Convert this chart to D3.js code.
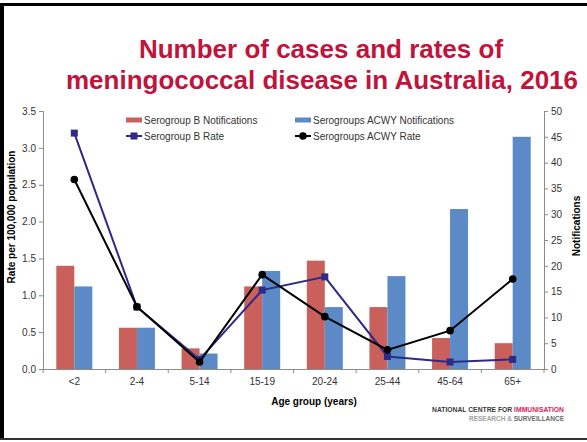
<!DOCTYPE html>
<html><head><meta charset="utf-8">
<script src="https://cdn.jsdelivr.net/npm/d3@7/dist/d3.min.js"></script>
<style>body{margin:0;background:#fff}svg{display:block;font-family:"Liberation Sans",Arial,sans-serif}</style>
</head><body><svg id="c" width="587" height="442"></svg>
<script>
const categories = ["<2","2-4","5-14","15-19","20-24","25-44","45-64","65+"];
const bNotifications = [20,8,4,16,21,12,6,5];
const acwyNotifications = [16,8,3,19,12,18,31,45];
const bRate = [3.2,0.84,0.13,1.07,1.25,0.17,0.095,0.13];
const acwyRate = [2.57,0.845,0.095,1.28,0.71,0.26,0.52,1.22];
const rateTicks = [0,0.5,1,1.5,2,2.5,3,3.5];
const notifTicks = [0,5,10,15,20,25,30,35,40,45,50];

const svg = d3.select("#c");
const L = 43, R = 544, T = 111, B = 369;
const red = "#C9605B", blue = "#5B8AC6", navy = "#2E2A87", axisCol = "#8c8c8c", txt = "#333";

// frame
svg.append("rect").attr("x",0).attr("y",3).attr("width",587).attr("height",3).attr("fill","#000");
svg.append("rect").attr("x",0).attr("y",3).attr("width",4).attr("height",437).attr("fill","#000");
svg.append("rect").attr("x",0).attr("y",438).attr("width",587).attr("height",2).attr("fill","#333");

// title
const title = svg.append("text").attr("text-anchor","middle").attr("fill","#C0143C")
  .attr("font-weight","bold").attr("font-size",26);
title.append("tspan").attr("x",321).attr("y",58).text("Number of cases and rates of");
title.append("tspan").attr("x",322).attr("y",89).text("meningococcal disease in Australia, 2016");

const x = d3.scaleBand().domain(categories).range([L,R]).paddingInner(0).paddingOuter(0);
const x1 = d3.scaleBand().domain(["b","acwy"]).range([0,x.bandwidth()]).paddingInner(0).paddingOuter(0.74);
const yL = d3.scaleLinear().domain([0,3.5]).range([B,T]);
const yR = d3.scaleLinear().domain([0,50]).range([B,T]);

// bars
const g = svg.append("g");
g.selectAll(".rb").data(categories).enter().append("rect")
  .attr("x",(d)=>x(d)+x1("b")).attr("width",x1.bandwidth())
  .attr("y",(d,i)=>yR(bNotifications[i])).attr("height",(d,i)=>B-yR(bNotifications[i]))
  .attr("fill",red);
g.selectAll(".ab").data(categories).enter().append("rect")
  .attr("x",(d)=>x(d)+x1("acwy")).attr("width",x1.bandwidth())
  .attr("y",(d,i)=>yR(acwyNotifications[i])).attr("height",(d,i)=>B-yR(acwyNotifications[i]))
  .attr("fill",blue);

// axes
const axL = svg.append("g").attr("transform",`translate(${L},0)`)
  .call(d3.axisLeft(yL).tickValues(rateTicks).tickFormat(d3.format(".1f")).tickSize(4).tickPadding(3));
const axR = svg.append("g").attr("transform",`translate(${R},0)`)
  .call(d3.axisRight(yR).tickValues(notifTicks).tickSize(4).tickPadding(3));
const axB = svg.append("g").attr("transform",`translate(0,${B})`)
  .call(d3.axisBottom(x).tickSize(0).tickPadding(9));
// x tick marks at band boundaries
const bounds = categories.map(c=>x(c)).concat([R]);
svg.append("g").selectAll("line").data(bounds).enter().append("line")
  .attr("x1",d=>d).attr("x2",d=>d).attr("y1",B).attr("y2",B+4).attr("stroke",axisCol);
[axL,axR,axB].forEach(a=>{
  a.selectAll("path").attr("stroke",axisCol).attr("stroke-width",1);
  a.selectAll("line").attr("stroke",axisCol);
  a.selectAll("text").attr("fill",txt).attr("font-size",10).attr("font-family","Liberation Sans, Arial, sans-serif");
});
axB.select("path").attr("d",`M${L},0.5H${R}`);

// lines
const lineB = d3.line().x((d,i)=>x(categories[i])+x.bandwidth()/2).y(d=>yL(d));
svg.append("path").datum(bRate).attr("d",lineB).attr("fill","none").attr("stroke",navy).attr("stroke-width",2);
svg.append("g").selectAll("rect").data(bRate).enter().append("rect")
  .attr("x",(d,i)=>x(categories[i])+x.bandwidth()/2-3.5).attr("y",d=>yL(d)-3.5)
  .attr("width",7).attr("height",7).attr("fill",navy);
svg.append("path").datum(acwyRate).attr("d",lineB).attr("fill","none").attr("stroke","#000").attr("stroke-width",2);
svg.append("g").selectAll("circle").data(acwyRate).enter().append("circle")
  .attr("cx",(d,i)=>x(categories[i])+x.bandwidth()/2).attr("cy",d=>yL(d)).attr("r",3.8).attr("fill","#000");

// axis titles
svg.append("text").attr("transform","translate(15,217) rotate(-90)").attr("text-anchor","middle")
  .attr("font-weight","bold").attr("font-size",10).attr("fill","#000").text("Rate per 100,000 population");
svg.append("text").attr("transform","translate(580,226) rotate(-90)").attr("text-anchor","middle")
  .attr("font-weight","bold").attr("font-size",10).attr("fill","#000").text("Notifications");
svg.append("text").attr("x",314).attr("y",405).attr("text-anchor","middle")
  .attr("font-weight","bold").attr("font-size",10).attr("fill","#000").text("Age group (years)");

// legend
const leg = svg.append("g").attr("font-size",10).attr("fill",txt);
const items = [
  {t:"Serogroup B Notifications",x:126,y:120,type:"bar",c:red},
  {t:"Serogroups ACWY Notifications",x:295,y:120,type:"bar",c:blue},
  {t:"Serogroup B Rate",x:126,y:136,type:"sq",c:navy},
  {t:"Serogroups ACWY Rate",x:295,y:136,type:"ci",c:"#000"}
];
items.forEach(it=>{
  if(it.type==="bar"){
    leg.append("rect").attr("x",it.x).attr("y",it.y-2.5).attr("width",16).attr("height",5).attr("fill",it.c);
  } else {
    leg.append("line").attr("x1",it.x).attr("x2",it.x+16).attr("y1",it.y).attr("y2",it.y).attr("stroke",it.c).attr("stroke-width",2);
    if(it.type==="sq") leg.append("rect").attr("x",it.x+4.5).attr("y",it.y-3.5).attr("width",7).attr("height",7).attr("fill",it.c);
    else leg.append("circle").attr("cx",it.x+8).attr("cy",it.y).attr("r",3.8).attr("fill",it.c);
  }
  leg.append("text").attr("x",it.x+18).attr("y",it.y+3.5).attr("fill",txt).text(it.t);
});

// logo
const l1 = svg.append("text").attr("x",432).attr("y",412).attr("font-size",6.5).attr("font-weight","bold")
  .attr("textLength",132).attr("lengthAdjust","spacingAndGlyphs");
l1.append("tspan").attr("fill","#3a3a3a").text("NATIONAL CENTRE FOR ");
l1.append("tspan").attr("fill","#D4245A").text("IMMUNISATION");
const l2 = svg.append("text").attr("x",469).attr("y",421).attr("font-size",6.5).attr("font-weight","bold")
  .attr("textLength",95).attr("lengthAdjust","spacingAndGlyphs");
l2.append("tspan").attr("fill","#a0a0a0").text("RESEARCH & ");
l2.append("tspan").attr("fill","#6a6a6a").text("SURVEILLANCE");
</script></body></html>
